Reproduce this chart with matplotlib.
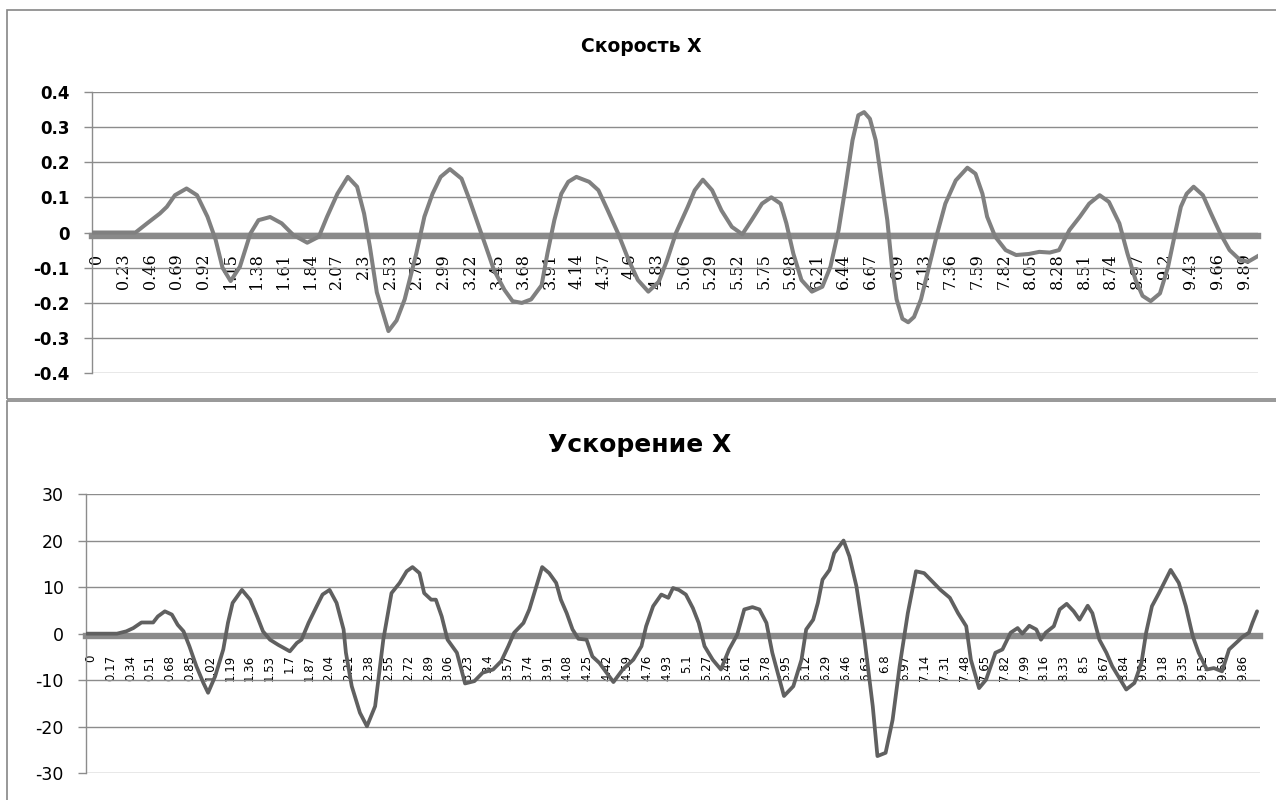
import matplotlib.pyplot as plt
from matplotlib.patches import Rectangle

# ---------------- Скорость X (time, value) ----------------
t_speed = [0.00, 0.37, 0.47, 0.58, 0.64, 0.71, 0.81, 0.90, 0.99, 1.06,
           1.12, 1.19, 1.27, 1.36, 1.43, 1.53, 1.63, 1.73, 1.85, 1.95,
           2.02, 2.11, 2.20, 2.28, 2.34, 2.39, 2.45, 2.55, 2.62, 2.69,
           2.79, 2.86, 2.93, 3.00, 3.08, 3.18, 3.25, 3.32, 3.39, 3.46,
           3.55, 3.62, 3.70, 3.78, 3.87, 3.92, 3.98, 4.04, 4.10, 4.17,
           4.28, 4.36, 4.44, 4.53, 4.62, 4.70, 4.79, 4.88, 4.95, 5.03,
           5.13, 5.19, 5.26, 5.34, 5.42, 5.51, 5.60, 5.68, 5.77, 5.85,
           5.93, 5.98, 6.04, 6.11, 6.20, 6.29, 6.36, 6.43, 6.49, 6.55,
           6.60, 6.65, 6.70, 6.75, 6.80, 6.85, 6.89, 6.93, 6.98, 7.03,
           7.08, 7.14, 7.21, 7.28, 7.35, 7.44, 7.54, 7.61, 7.67, 7.71,
           7.78, 7.87, 7.96, 8.07, 8.16, 8.25, 8.33, 8.42, 8.51, 8.59,
           8.68, 8.76, 8.85, 8.92, 8.99, 9.05, 9.12, 9.20, 9.27, 9.33,
           9.38, 9.43, 9.49, 9.57, 9.64, 9.72, 9.80, 9.89, 9.96, 10.06]
v_speed = [0.000, 0.000, 0.026, 0.054, 0.073, 0.106, 0.125, 0.106, 0.045, -0.020,
           -0.100, -0.138, -0.097, -0.003, 0.035, 0.044, 0.026, -0.007, -0.029, -0.012,
           0.044, 0.110, 0.158, 0.130, 0.054, -0.040, -0.170, -0.280, -0.250, -0.190,
           -0.060, 0.045, 0.110, 0.158, 0.180, 0.153, 0.092, 0.026, -0.040, -0.107,
           -0.163, -0.195, -0.200, -0.190, -0.150, -0.060, 0.035, 0.110, 0.144, 0.158,
           0.144, 0.120, 0.063, -0.003, -0.078, -0.135, -0.168, -0.140, -0.080, 0.000,
           0.073, 0.120, 0.150, 0.120, 0.063, 0.016, -0.005, 0.035, 0.082, 0.100,
           0.082, 0.026, -0.060, -0.135, -0.168, -0.154, -0.097, 0.007, 0.130, 0.262,
           0.333, 0.342, 0.323, 0.262, 0.148, 0.035, -0.097, -0.190, -0.245, -0.255,
           -0.240, -0.190, -0.097, -0.003, 0.082, 0.148, 0.184, 0.167, 0.110, 0.045,
           -0.012, -0.050, -0.064, -0.061, -0.055, -0.057, -0.050, 0.007, 0.045, 0.082,
           0.106, 0.087, 0.026, -0.060, -0.135, -0.180, -0.195, -0.173, -0.097, -0.003,
           0.073, 0.110, 0.130, 0.106, 0.054, -0.003, -0.050, -0.078, -0.083, -0.064]

# ---------------- Ускорение X (time, value) ----------------
t_accel = [0.00, 0.26, 0.34, 0.40, 0.47, 0.57, 0.61, 0.67, 0.73, 0.78,
           0.83, 0.88, 0.94, 1.00, 1.04, 1.10, 1.17, 1.21, 1.25, 1.33,
           1.40, 1.46, 1.51, 1.57, 1.64, 1.74, 1.80, 1.84, 1.90, 1.97,
           2.02, 2.08, 2.14, 2.20, 2.22, 2.27, 2.34, 2.40, 2.47, 2.54,
           2.61, 2.68, 2.74, 2.79, 2.85, 2.89, 2.95, 2.99, 3.04, 3.09,
           3.17, 3.24, 3.32, 3.39, 3.48, 3.55, 3.61, 3.66, 3.74, 3.79,
           3.85, 3.90, 3.96, 4.02, 4.06, 4.11, 4.16, 4.21, 4.28, 4.33,
           4.39, 4.51, 4.59, 4.68, 4.75, 4.79, 4.85, 4.92, 4.98, 5.02,
           5.07, 5.13, 5.19, 5.24, 5.29, 5.36, 5.43, 5.50, 5.57, 5.63,
           5.70, 5.76, 5.82, 5.87, 5.97, 6.05, 6.12, 6.16, 6.22, 6.26,
           6.30, 6.36, 6.40, 6.48, 6.53, 6.59, 6.66, 6.73, 6.77, 6.84,
           6.90, 6.96, 7.03, 7.10, 7.17, 7.24, 7.31, 7.39, 7.46, 7.53,
           7.57, 7.64, 7.70, 7.78, 7.84, 7.91, 7.97, 8.01, 8.07, 8.13,
           8.17, 8.21, 8.28, 8.33, 8.39, 8.45, 8.50, 8.57, 8.61, 8.67,
           8.73, 8.78, 8.90, 8.97, 9.03, 9.07, 9.12, 9.18, 9.28, 9.35,
           9.41, 9.47, 9.52, 9.59, 9.65, 9.72, 9.78, 9.84, 9.90, 9.95,
           9.98, 10.02]
a_accel = [0.0, 0.0, 0.5, 1.2, 2.4, 2.4, 3.7, 4.8, 4.1, 1.9,
           0.5, -2.7, -7.0, -10.6, -12.7, -9.2, -3.4, 2.3, 6.6, 9.4,
           7.3, 3.7, 0.5, -1.3, -2.4, -3.8, -2.0, -1.3, 2.3, 5.9,
           8.4, 9.4, 6.6, 0.9, -4.1, -11.3, -17.0, -19.9, -15.6, -1.3,
           8.7, 10.9, 13.4, 14.3, 13.0, 8.7, 7.3, 7.3, 3.7, -1.3,
           -4.1, -10.7, -10.2, -8.4, -7.7, -5.9, -2.7, 0.2, 2.3, 5.2,
           10.2, 14.3, 13.0, 10.9, 7.3, 4.4, 0.9, -1.1, -1.3, -4.9,
           -6.3, -10.4, -7.7, -5.6, -2.7, 1.6, 5.9, 8.4, 7.7, 9.8,
           9.4, 8.4, 5.5, 2.3, -2.7, -5.6, -7.7, -3.4, -0.2, 5.2,
           5.7, 5.2, 2.3, -4.1, -13.4, -11.3, -5.6, 0.9, 3.0, 6.6,
           11.6, 13.7, 17.3, 20.0, 16.6, 10.2, -1.3, -15.6, -26.3, -25.6,
           -18.5, -7.0, 4.4, 13.4, 13.0, 11.2, 9.4, 7.7, 4.4, 1.6,
           -5.6, -11.7, -9.9, -4.1, -3.4, 0.2, 1.2, 0.0, 1.7, 0.9,
           -1.3, 0.2, 1.6, 5.2, 6.4, 4.8, 3.0, 6.0, 4.4, -1.3,
           -4.1, -7.0, -12.0, -10.6, -6.3, 0.2, 5.9, 8.7, 13.7, 10.9,
           5.9, -0.6, -4.1, -7.7, -7.4, -8.1, -3.4, -2.0, -0.6, 0.2,
           2.3, 4.8]

# ---------------- axis labels ----------------
speed_xlabels = ["0", "0.23", "0.46", "0.69", "0.92", "1.15", "1.38", "1.61", "1.84",
                 "2.07", "2.3", "2.53", "2.76", "2.99", "3.22", "3.45", "3.68", "3.91",
                 "4.14", "4.37", "4.6", "4.83", "5.06", "5.29", "5.52", "5.75", "5.98",
                 "6.21", "6.44", "6.67", "6.9", "7.13", "7.36", "7.59", "7.82", "8.05",
                 "8.28", "8.51", "8.74", "8.97", "9.2", "9.43", "9.66", "9.89"]
accel_xlabels = ["0", "0.17", "0.34", "0.51", "0.68", "0.85", "1.02", "1.19", "1.36",
                 "1.53", "1.7", "1.87", "2.04", "2.21", "2.38", "2.55", "2.72", "2.89",
                 "3.06", "3.23", "3.4", "3.57", "3.74", "3.91", "4.08", "4.25", "4.42",
                 "4.59", "4.76", "4.93", "5.1", "5.27", "5.44", "5.61", "5.78", "5.95",
                 "6.12", "6.29", "6.46", "6.63", "6.8", "6.97", "7.14", "7.31", "7.48",
                 "7.65", "7.82", "7.99", "8.16", "8.33", "8.5", "8.67", "8.84", "9.01",
                 "9.18", "9.35", "9.52", "9.69", "9.86"]

speed_yticks = [-0.4, -0.3, -0.2, -0.1, 0, 0.1, 0.2, 0.3, 0.4]
speed_ylabels = ["-0.4", "-0.3", "-0.2", "-0.1", "0", "0.1", "0.2", "0.3", "0.4"]
accel_yticks = [-30, -20, -10, 0, 10, 20, 30]
accel_ylabels = ["-30", "-20", "-10", "0", "10", "20", "30"]

GRID = "#8c8c8c"


def style_axes(ax, xlabels, yticks, ylabels, zero_pos, xfont, yfont, xpad):
    # spine first: moving it resets the ticks
    for side in ["top", "right"]:
        ax.spines[side].set_visible(False)
    ax.spines["left"].set_color(GRID)
    ax.spines["left"].set_linewidth(1)
    ax.spines["bottom"].set_position(("data", zero_pos))
    ax.spines["bottom"].set_color("#8a8a8a")
    ax.spines["bottom"].set_linewidth(4.6)

    ax.set_xlim(-0.005, 10.045)
    ax.set_ylim(yticks[0], yticks[-1])
    ax.set_yticks(yticks, ylabels, **yfont)
    # labels sit a little right of the category centre, as in Excel
    ax.set_xticks([float(s) + 0.035 for s in xlabels], xlabels, rotation=90, **xfont)

    ax.yaxis.grid(True, color=GRID, linewidth=1.0)
    ax.tick_params(axis="y", length=5.5, width=1, color=GRID, pad=10.5)
    ax.tick_params(axis="x", length=0, pad=xpad)


fig = plt.figure(figsize=(12.76, 8), dpi=100)

# chart borders
fig.add_artist(Rectangle((7 / 1276, 1 - 399 / 800), 1.1, 389 / 800, transform=fig.transFigure,
                         fill=False, edgecolor="#868686", linewidth=1.2))
fig.add_artist(Rectangle((7 / 1276, -0.1), 1.1, 0.1 + 399 / 800, transform=fig.transFigure,
                         fill=False, edgecolor="#868686", linewidth=1.2))

# ---- top: Скорость X ----
ax1 = fig.add_axes([92 / 1276, 1 - 373.3 / 800, 1166 / 1276, 281.6 / 800])
ax1.plot(t_speed, v_speed, color="#808080", linewidth=2.9, zorder=3,
         solid_joinstyle="round", solid_capstyle="round")
style_axes(ax1, speed_xlabels, speed_yticks, speed_ylabels, -0.01,
           dict(family="DejaVu Serif", fontsize=11.5),
           dict(family="DejaVu Sans", fontsize=12, fontweight="bold"), 12.5)
fig.text(641 / 1276, 1 - 46 / 800, "Скорость X", ha="center", va="center",
         family="DejaVu Sans", fontsize=13.5, fontweight="bold")

# ---- bottom: Ускорение X ----
ax2 = fig.add_axes([86 / 1276, 1 - 773.3 / 800, 1174 / 1276, 279.3 / 800])
ax2.plot(t_accel, a_accel, color="#606060", linewidth=2.7, zorder=3,
         solid_joinstyle="round", solid_capstyle="round")
style_axes(ax2, accel_xlabels, accel_yticks, accel_ylabels, -0.5,
           dict(family="DejaVu Sans", fontsize=8.5),
           dict(family="DejaVu Sans", fontsize=12.5), 13.5)
fig.text(640 / 1276, 1 - 445 / 800, "Ускорение X", ha="center", va="center",
         family="DejaVu Sans", fontsize=18, fontweight="bold")

fig.savefig("out.png", dpi=100)
